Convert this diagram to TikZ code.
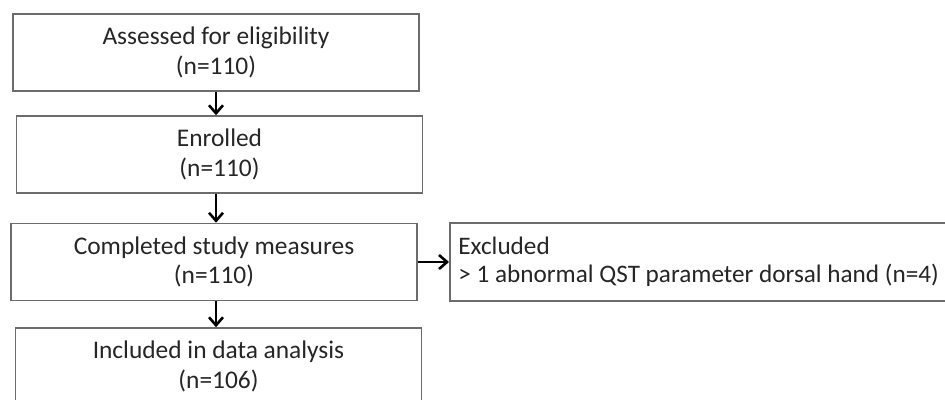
\documentclass[tikz,border=0pt]{standalone}
\usepackage{fontspec}
\setmainfont{Carlito}
\usetikzlibrary{arrows.meta}
\usetikzlibrary{positioning}

\tikzset{
    stagebox/.style={draw=gray!85!black, line width=0.75pt, fill=white,
        minimum width=203pt, minimum height=38.5pt, align=center,
        font=\fontsize{12.7}{14.8}\selectfont, text=black!85},
    sidebox/.style={draw=gray!85!black, line width=0.75pt, fill=white,
        minimum width=260pt, minimum height=39pt, align=left,
        font=\fontsize{12.6}{14.2}\selectfont, text=black!85},
    flow/.style={-{Straight Barb[length=4pt,width=7pt,line width=1.3pt]}, line width=1.2pt, black}
}

\begin{document}
\begin{tikzpicture}[x=0.5pt,y=-0.5pt]
            \clip (0,0) rectangle (945,400);
            \fill[white] (0,0) rectangle (945,400);
            \node[stagebox] (assess) at (216,52.5) {Assessed for eligibility\\(n=110)};
            \node[stagebox] (enrol) at (219.5,154.5) {Enrolled\\(n=110)};
            \node[stagebox] (done) at (214,262) {Completed study measures\\(n=110)};
            \node[stagebox] (incl) at (218.5,366.5) {Included in data analysis\\(n=106)};
            \node[sidebox, anchor=west] (excl) at (449,262)
                {\hspace*{1pt}Excluded\\\hspace*{1pt}> 1 abnormal QST parameter dorsal hand (n=4)\hspace*{30pt}};

            \draw[flow] (assess.south -| 216,0) -- (enrol.north -| 216,0);
            \draw[flow] (enrol.south -| 216,0) -- (done.north -| 216,0);
            \draw[flow] (done.south -| 216,0) -- (incl.north -| 216,0);
            \draw[flow] (done.east) -- (excl.west);
        \end{tikzpicture}
\end{document}
